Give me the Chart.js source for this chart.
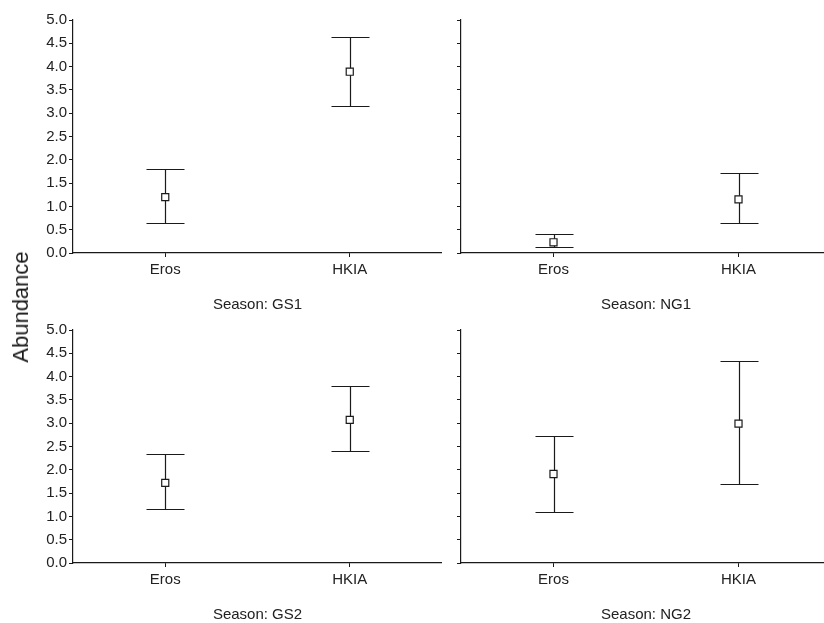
<!DOCTYPE html>
<html>
<head>
<meta charset="utf-8">
<script src="https://cdn.jsdelivr.net/npm/chart.js@4.4.1/dist/chart.umd.min.js"></script>
<style>
  body { margin: 0; background: #fff; overflow: hidden; width: 824px; height: 623px; position: relative; }
  canvas { position: absolute; }
  #ylab { position: absolute; left: 21px; top: 307px; transform: translate(-50%, -50%) rotate(-90deg);
          font: 22px "Liberation Sans", Arial, sans-serif; color: #1a1a1a; white-space: nowrap; }
</style>
</head>
<body>
<canvas id="c0" width="442" height="320" style="left:0;top:0"></canvas>
<canvas id="c1" width="390" height="320" style="left:441px;top:0"></canvas>
<canvas id="c2" width="442" height="320" style="left:0;top:310px"></canvas>
<canvas id="c3" width="390" height="320" style="left:441px;top:310px"></canvas>
<div id="ylab">Abundance</div>
<script>
// data
const categories = ['Eros', 'HKIA'];
const seasons = ['GS1', 'NG1', 'GS2', 'NG2'];
const means = [[1.20, 3.89], [0.23, 1.15], [1.72, 3.07], [1.91, 2.99]];
const upper = [[1.80, 4.64], [0.40, 1.71], [2.33, 3.79], [2.72, 4.33]];
const lower = [[0.65, 3.15], [0.13, 0.65], [1.15, 2.40], [1.09, 1.70]];
const yTicks = [0, 0.5, 1, 1.5, 2, 2.5, 3, 3.5, 4, 4.5, 5];

const ink = '#1a1a1a';
const fontFam = '"Liberation Sans", Arial, sans-serif';

// whiskers with caps, drawn under the square markers
const errorBars = {
  id: 'errorBars',
  beforeDatasetsDraw(chart) {
    const ctx = chart.ctx;
    const xs = chart.scales.x, ys = chart.scales.y;
    const i = chart.options.plugins.errorBars.panel;
    ctx.save();
    ctx.strokeStyle = ink;
    ctx.lineWidth = 1.2;
    categories.forEach((c, j) => {
      const x = Math.round(xs.getPixelForValue(j)) + 0.5;
      const yHi = Math.round(ys.getPixelForValue(upper[i][j])) + 0.5;
      const yLo = Math.round(ys.getPixelForValue(lower[i][j])) + 0.5;
      ctx.beginPath();
      ctx.moveTo(x, yHi); ctx.lineTo(x, yLo);
      ctx.moveTo(x - 19, yHi); ctx.lineTo(x + 19, yHi);
      ctx.moveTo(x - 19, yLo); ctx.lineTo(x + 19, yLo);
      ctx.stroke();
    });
    ctx.restore();
  }
};

function makePanel(id, i, showLabels) {
  new Chart(document.getElementById(id), {
    type: 'line',
    data: {
      labels: categories,
      datasets: [{
        data: means[i],
        showLine: false,
        pointStyle: 'rect',
        pointRadius: 5,
        pointBackgroundColor: '#fff',
        pointBorderColor: ink,
        pointBorderWidth: 1.2
      }]
    },
    plugins: [errorBars],
    options: {
      responsive: false,
      animation: false,
      layout: { autoPadding: false, padding: { top: 20, left: 0, right: 0, bottom: 0 } },
      plugins: {
        legend: { display: false },
        tooltip: { enabled: false },
        errorBars: { panel: i }
      },
      scales: {
        x: {
          offset: true,
          afterFit: (s) => { s.height = 67; },
          grid: { drawOnChartArea: false, tickLength: 4, color: ink, offset: false },
          border: { color: ink, width: 1.2 },
          ticks: { color: '#222', padding: 4, maxRotation: 0, font: { family: fontFam, size: 15 } },
          title: {
            display: true,
            text: 'Season: ' + seasons[i],
            color: '#222',
            padding: { top: 0, bottom: 6 },
            font: { family: fontFam, size: 15 }
          }
        },
        y: {
          min: 0,
          max: 5,
          afterFit: (s) => { s.width = showLabels ? 73 : 20; },
          afterBuildTicks: (s) => { s.ticks = yTicks.map(v => ({ value: v })); },
          grid: { drawOnChartArea: false, tickLength: 4, color: ink },
          border: { color: ink, width: 1.2 },
          ticks: {
            display: showLabels,
            color: '#222',
            padding: 2,
            font: { family: fontFam, size: 15 },
            callback: (v) => v.toFixed(1)
          }
        }
      }
    }
  });
}

makePanel('c0', 0, true);
makePanel('c1', 1, false);
makePanel('c2', 2, true);
makePanel('c3', 3, false);
</script>
</body>
</html>
